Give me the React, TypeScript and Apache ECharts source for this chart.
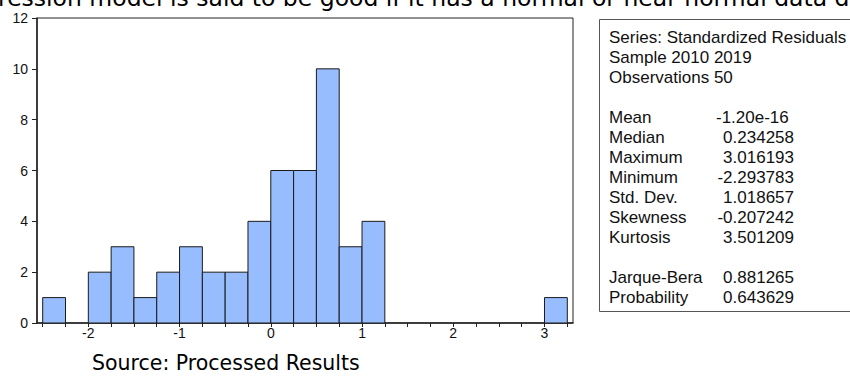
import React, { useEffect, useRef } from "react";
import * as echarts from "echarts";

// Histogram bins (lower edges), width 0.25
const binLower = [-2.5, -2.25, -2.0, -1.75, -1.5, -1.25, -1.0, -0.75, -0.5, -0.25, 0, 0.25, 0.5, 0.75, 1.0, 1.25, 1.5, 1.75, 2.0, 2.25, 2.5, 2.75, 3.0];
const binWidth = 0.25;
const counts = [1, 0, 2, 3, 1, 2, 3, 2, 2, 4, 6, 6, 10, 3, 4, 0, 0, 0, 0, 0, 0, 0, 1];
const xTickValues = [-2.5, -2.25, -2, -1.75, -1.5, -1.25, -1, -0.75, -0.5, -0.25, 0, 0.25, 0.5, 0.75, 1, 1.25, 1.5, 1.75, 2, 2.25, 2.5, 2.75, 3, 3.25];
const xLabelValues = [-2, -1, 0, 1, 2, 3];

const headerLines = ["Series: Standardized Residuals", "Sample 2010 2019", "Observations 50"];
const statNames = ["Mean", "Median", "Maximum", "Minimum", "Std. Dev.", "Skewness", "Kurtosis"];
const statValues = ["-1.20e-16", "0.234258", "3.016193", "-2.293783", "1.018657", "-0.207242", "3.501209"];
const testNames = ["Jarque-Bera", "Probability"];
const testValues = ["0.881265", "0.643629"];

const topText = "ression model is said to be good if it has a normal or near normal data d";
const sourceText = "Source: Processed Results";

const SANS = '"Liberation Sans", Arial, sans-serif';
const DOC = '"DejaVu Sans", Tahoma, sans-serif';

export default function App() {
  const ref = useRef<HTMLDivElement>(null);
  useEffect(() => {
    document.body.style.margin = "0";
    if (!ref.current) return;
    const chart = echarts.init(ref.current, null, { renderer: "svg" });

    const data = counts
      .map((c, i) => [binLower[i], binLower[i] + binWidth, c])
      .filter((d) => d[2] > 0);

    const lineH = 20;
    const y0 = 37;
    const labelX = 609;
    const valueRight = 794;
    const valueLeft = 716;
    const FS = 17;
    const graphics: any[] = [];
    graphics.push({
      type: "rect",
      shape: { x: 599.5, y: 19.5, width: 300, height: 292 },
      style: { fill: "#fff", stroke: "#555", lineWidth: 1 },
      z: 1,
    });
    const addText = (text: string, x: number, y: number, align: string) => {
      graphics.push({
        type: "text",
        x,
        y,
        style: {
          text,
          fill: "#111",
          fontFamily: SANS,
          fontSize: FS,
          textAlign: align,
          textVerticalAlign: "middle",
        },
        z: 2,
      });
    };
    headerLines.forEach((t, i) => addText(t, labelX, y0 + i * lineH, "left"));
    statNames.forEach((t, i) => {
      const y = y0 + (4 + i) * lineH;
      addText(t, labelX, y, "left");
      if (statValues[i].includes("e")) addText(statValues[i], valueLeft, y, "left");
      else addText(statValues[i], valueRight, y, "right");
    });
    testNames.forEach((t, i) => {
      const y = y0 + (12 + i) * lineH;
      addText(t, labelX, y, "left");
      addText(testValues[i], valueRight, y, "right");
    });
    graphics.push({
      type: "text",
      x: -2,
      y: 9.5,
      style: { text: topText, fill: "#000", fontFamily: DOC, fontSize: 23.5, textAlign: "left", textVerticalAlign: "bottom" },
    });
    graphics.push({
      type: "text",
      x: 92,
      y: 363,
      style: { text: sourceText, fill: "#000", fontFamily: DOC, fontSize: 20.5, textAlign: "left", textVerticalAlign: "middle" },
    });

    chart.setOption({
      animation: false,
      backgroundColor: "#fff",
      grid: {
        left: 37,
        right: 277,
        top: 18,
        bottom: 53,
        show: true,
        borderColor: "#222",
        borderWidth: 1,
        backgroundColor: "transparent",
      },
      xAxis: {
        type: "value",
        min: -2.5625,
        max: 3.3125,
        axisLine: { show: true, onZero: false, lineStyle: { color: "#222", width: 1.5 } },
        axisTick: { show: true, customValues: xTickValues, length: 4, lineStyle: { color: "#222" } },
        axisLabel: {
          customValues: xLabelValues,
          color: "#111",
          fontFamily: SANS,
          fontSize: 14,
          margin: 3,
        },
        splitLine: { show: false },
      },
      yAxis: {
        type: "value",
        min: 0,
        max: 12,
        interval: 2,
        axisLine: { show: true, onZero: false, lineStyle: { color: "#222", width: 1.5 } },
        axisTick: { show: true, length: 5, lineStyle: { color: "#222" } },
        axisLabel: { color: "#111", fontFamily: SANS, fontSize: 14, margin: 9 },
        splitLine: { show: false },
      },
      series: [
        {
          type: "custom",
          data,
          encode: { x: [0, 1], y: 2 },
          renderItem: (params: any, api: any) => {
            const p0 = api.coord([api.value(0), api.value(2)]);
            const p1 = api.coord([api.value(1), 0]);
            return {
              type: "rect",
              shape: { x: p0[0], y: p0[1], width: p1[0] - p0[0], height: p1[1] - p0[1] },
              style: { fill: "#97BDFE", stroke: "#1a1a1a", lineWidth: 1 },
            };
          },
        },
      ],
      graphic: graphics,
    });
    return () => chart.dispose();
  }, []);
  return <div ref={ref} style={{ width: 850, height: 376 }} />;
}
